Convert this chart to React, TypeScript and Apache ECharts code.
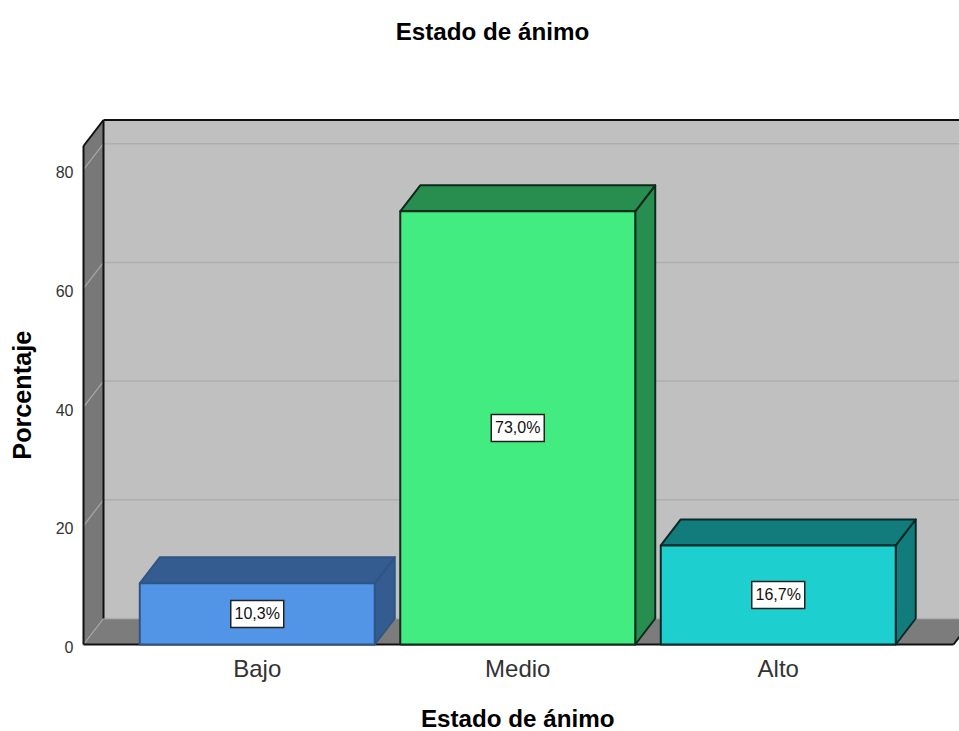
import React, { useEffect, useRef } from "react";
import * as echarts from "echarts";

const categories = ["Bajo", "Medio", "Alto"];
const percentages = [10.3, 73.0, 16.7];
const gridTicks = [0, 20, 40, 60, 80];
const yMax = 84;
const chartTitle = "Estado de ánimo";
const xAxisTitle = "Estado de ánimo";
const yAxisTitle = "Porcentaje";

const frontColors = ["#5294E6", "#42EC80", "#1DCFCF"];
const sideColors = ["#345C90", "#278E50", "#127C7C"];
const barStrokes = ["#2F5583", "#0E2A1A", "#0A2A2A"];

const FONT = '"Liberation Sans", Arial, sans-serif';
const DEPTH_X = 20;
const DEPTH_Y = -26;
const BAR_RATIO = 0.902;
const SIDE_MARGIN = 43.5;

const renderFrame = (params: any, api: any) => {
  const cs = params.coordSys;
  const xL = cs.x - SIDE_MARGIN;
  const xR = cs.x + cs.width + 45;
  const y0 = cs.y + cs.height;
  const yT = cs.y;
  const children: any[] = [];
  const line = (x1: number, y1: number, x2: number, y2: number, stroke: string, lineWidth = 2) =>
    children.push({ type: "line", shape: { x1, y1, x2, y2 }, style: { stroke, lineWidth } });
  children.push({
    type: "polygon",
    shape: { points: [[xL + DEPTH_X, yT + DEPTH_Y], [xR + DEPTH_X, yT + DEPTH_Y], [xR + DEPTH_X, y0 + DEPTH_Y], [xL + DEPTH_X, y0 + DEPTH_Y]] },
    style: { fill: "#C0C0C0" },
  });
  children.push({
    type: "polygon",
    shape: { points: [[xL, yT], [xL + DEPTH_X, yT + DEPTH_Y], [xL + DEPTH_X, y0 + DEPTH_Y], [xL, y0]] },
    style: { fill: "#787878" },
  });
  children.push({
    type: "polygon",
    shape: { points: [[xL, y0], [xL + DEPTH_X, y0 + DEPTH_Y], [xR + DEPTH_X, y0 + DEPTH_Y], [xR, y0]] },
    style: { fill: "#7C7C7C" },
  });
  gridTicks.forEach((t) => {
    const y = api.coord([0, t])[1];
    line(xL, y, xL + DEPTH_X, y + DEPTH_Y, "#A8A8A8", 1.2);
    line(xL + DEPTH_X, y + DEPTH_Y, xR + DEPTH_X, y + DEPTH_Y, "#AEAEAE", 1.5);
  });
  line(xL, yT, xL + DEPTH_X, yT + DEPTH_Y, "#111");
  line(xL + DEPTH_X, yT + DEPTH_Y, xR + DEPTH_X, yT + DEPTH_Y, "#111");
  line(xL, yT, xL, y0, "#111");
  line(xL + DEPTH_X, yT + DEPTH_Y, xL + DEPTH_X, y0 + DEPTH_Y, "#111");
  line(xL, y0, xR, y0, "#111");
  line(xR, y0, xR + DEPTH_X, y0 + DEPTH_Y, "#111");
  return { type: "group", children };
};

const renderBar = (params: any, api: any) => {
  const i = params.dataIndex;
  const value = api.value(1);
  const [cx, yTop] = api.coord([i, value]);
  const [, yBase] = api.coord([i, 0]);
  const w = api.size([1, 0])[0] * BAR_RATIO;
  const x1 = cx - w / 2;
  const x2 = cx + w / 2;
  const style = (fill: string) => ({ fill, stroke: barStrokes[i], lineWidth: 2, lineJoin: "round" });
  const labelY = (yTop + yBase) / 2;
  const text = value.toFixed(1).replace(".", ",") + "%";
  return {
    type: "group",
    children: [
      { type: "polygon", shape: { points: [[x2, yBase], [x2 + DEPTH_X, yBase + DEPTH_Y], [x2 + DEPTH_X, yTop + DEPTH_Y], [x2, yTop]] }, style: style(sideColors[i]) },
      { type: "polygon", shape: { points: [[x1, yTop], [x1 + DEPTH_X, yTop + DEPTH_Y], [x2 + DEPTH_X, yTop + DEPTH_Y], [x2, yTop]] }, style: style(sideColors[i]) },
      { type: "rect", shape: { x: x1, y: yTop, width: w, height: yBase - yTop }, style: style(frontColors[i]) },
      { type: "rect", shape: { x: cx - 26.5, y: labelY - 13.5, width: 53, height: 27 }, style: { fill: "#FFFFFF", stroke: "#222", lineWidth: 1.5 } },
      { type: "text", x: cx, y: labelY, style: { text, fill: "#111", font: `16px ${FONT}`, align: "center", verticalAlign: "middle" } },
    ],
  };
};

export default function App() {
  const ref = useRef<HTMLDivElement>(null);
  useEffect(() => {
    document.body.style.margin = "0";
    document.body.style.background = "#fff";
    const chart = echarts.init(ref.current!, undefined, { renderer: "svg" });
    chart.setOption({
      animation: false,
      backgroundColor: "#FFFFFF",
      title: {
        text: chartTitle,
        left: 487.5,
        top: 14,
        textAlign: "center",
        textStyle: { fontFamily: FONT, fontSize: 24.2, fontWeight: "bold", color: "#000" },
      },
      grid: { left: 127, top: 146, width: 781.5, height: 498.5, outerBoundsMode: "none", containLabel: false },
      xAxis: {
        type: "category",
        data: categories,
        name: xAxisTitle,
        nameLocation: "middle",
        nameGap: 65,
        nameTextStyle: { fontFamily: FONT, fontSize: 24.2, lineHeight: 18, fontWeight: "bold", color: "#000" },
        axisLine: { show: false },
        axisTick: { show: false },
        axisLabel: { fontFamily: FONT, fontSize: 24, color: "#333", margin: 12 },
      },
      yAxis: {
        type: "value",
        min: 0,
        max: yMax,
        interval: 20,
        offset: SIDE_MARGIN,
        name: yAxisTitle,
        nameLocation: "middle",
        nameGap: 49,
        nameRotate: 90,
        nameTextStyle: { fontFamily: FONT, fontSize: 25.2, fontWeight: "bold", color: "#000" },
        axisLine: { show: false },
        axisTick: { show: false },
        splitLine: { show: false },
        axisLabel: { fontFamily: FONT, fontSize: 16, color: "#333", margin: 10, verticalAlign: "top", lineHeight: 6, showMaxLabel: false },
      },
      series: [
        { type: "custom", silent: true, z: 1, renderItem: renderFrame, data: [[0, 0]], encode: { x: 0, y: 1 } },
        {
          type: "custom",
          silent: true,
          z: 2,
          renderItem: renderBar,
          data: percentages.map((v, i) => [i, v]),
          encode: { x: 0, y: 1 },
        },
      ],
    });
    return () => chart.dispose();
  }, []);
  return <div ref={ref} style={{ width: 959, height: 731, overflow: "hidden" }} />;
}
